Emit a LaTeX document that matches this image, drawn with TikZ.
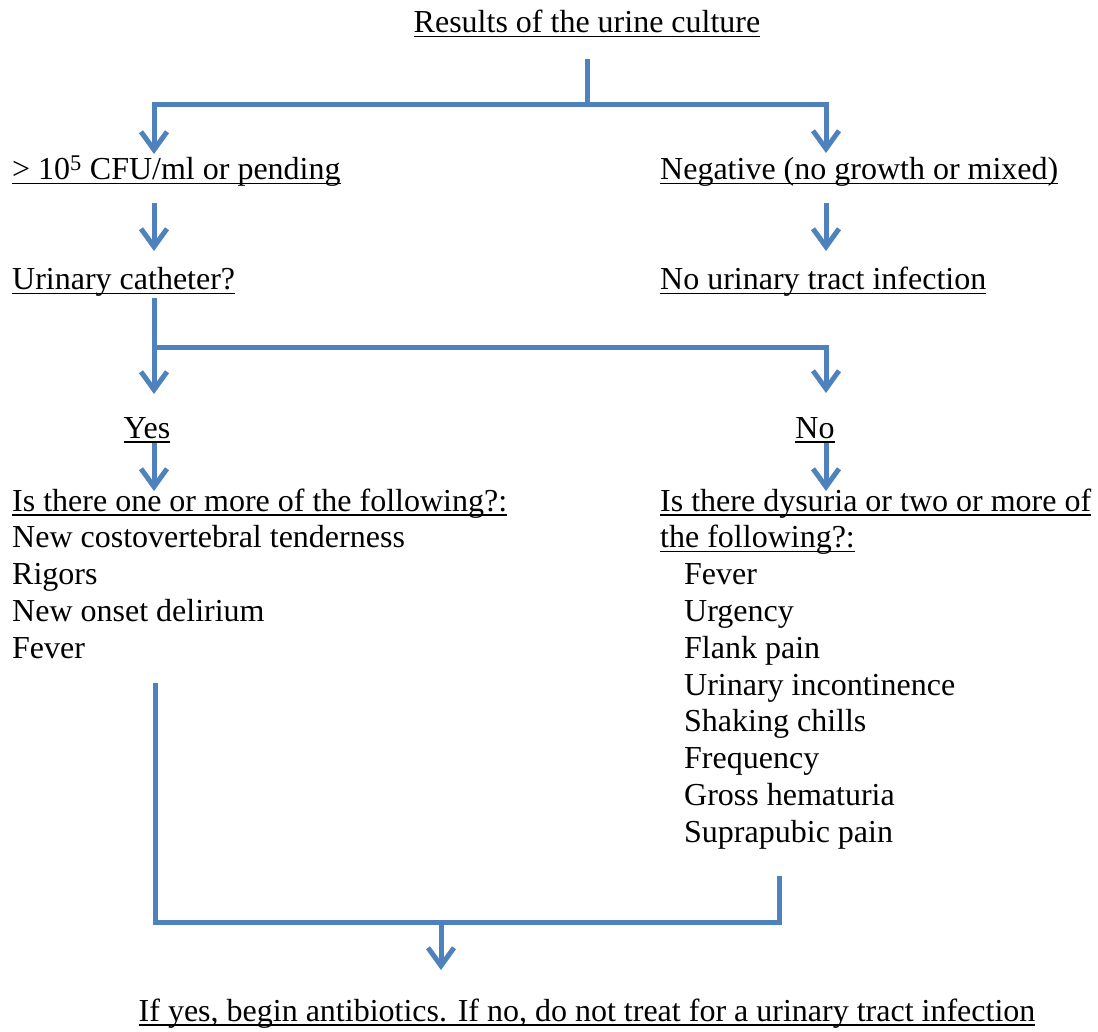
\documentclass[tikz,border=0pt]{standalone}
\usepackage{fontspec}
\setmainfont{Liberation Serif}
\usetikzlibrary{arrows.meta}
\definecolor{flow}{HTML}{4F81BD}
\newsavebox\ulbox
\newcommand\ulx[1]{\sbox\ulbox{#1}\rlap{\rule[-4.5pt]{\wd\ulbox}{1.6pt}}\usebox\ulbox}
\begin{document}
\begin{tikzpicture}[x=1pt,y=-1pt,
  txt/.style={inner sep=0pt, anchor=base west, font=\fontsize{32}{37}\selectfont},
  ctxt/.style={txt, anchor=base},
  flowline/.style={draw=flow, line width=5pt},
  arr/.style={flowline, -{Straight Barb[length=18pt,width=26pt]}}]
\useasboundingbox (0,0) rectangle (1098,1032);

% texts
\node[ctxt] (title) at (587,33) {\ulx{Results of the urine culture}};
\node[txt] (pos) at (12,180) {\ulx{> 10\textsuperscript{5} CFU/ml or pending}};
\node[txt] (neg) at (660,180) {\ulx{Negative (no growth or mixed)}};
\node[txt] (cath) at (12,290) {\ulx{Urinary catheter?}};
\node[txt] (nouti) at (660,290) {\ulx{No urinary tract infection}};
\node[ctxt] (yes) at (147,438) {\ulx{Yes}};
\node[ctxt] (no) at (815,438) {\ulx{No}};

\node[txt] (l1) at (12,511) {\ulx{Is there one or more of the following?:}};
\node[txt] (l2) at (12,547.8) {New costovertebral tenderness};
\node[txt] (l3) at (12,584.6) {Rigors};
\node[txt] (l4) at (12,621.4) {New onset delirium};
\node[txt] (l5) at (12,658.2) {Fever};

\node[txt] (r1) at (660,511) {\ulx{Is there dysuria or two or more of}};
\node[txt] (r2) at (660,547.8) {\ulx{the following?:}};
\node[txt] (r3) at (684,584.6) {Fever};
\node[txt] (r4) at (684,621.4) {Urgency};
\node[txt] (r5) at (684,658.2) {Flank pain};
\node[txt] (r6) at (684,695) {Urinary incontinence};
\node[txt] (r7) at (684,731.8) {Shaking chills};
\node[txt] (r8) at (684,768.6) {Frequency};
\node[txt] (r9) at (684,805.4) {Gross hematuria};
\node[txt] (r10) at (684,842.2) {Suprapubic pain};

\node[ctxt] (final) at (587,1021) {\ulx{If yes, begin antibiotics. If no, do not treat for a urinary tract infection}};

% connector points
\coordinate (t0) at (587,59);
\coordinate (tj) at (587,105);
\coordinate (pL) at (154,154);
\coordinate (pR) at (826,153);
\coordinate (a1s) at (154,203);
\coordinate (a1e) at (154,251);
\coordinate (a2s) at (826,203);
\coordinate (a2e) at (826,251);
\coordinate (c0) at (154,298);
\coordinate (cj) at (154,348);
\coordinate (cY) at (154,394);
\coordinate (cN) at (826,393);
\coordinate (y0) at (154,443);
\coordinate (y1) at (154,491);
\coordinate (n0) at (826,443);
\coordinate (n1) at (826,491);
\coordinate (bL) at (155,683);
\coordinate (bR) at (779,876);
\coordinate (bM) at (441,922);
\coordinate (bE) at (441,970);

% connectors
\draw[flowline] (t0) -- (tj);
\draw[arr] (tj) -| (pL);
\draw[arr] (tj) -| (pR);
\draw[arr] (a1s) -- (a1e);
\draw[arr] (a2s) -- (a2e);
\draw[arr] (c0) -- (cY);
\draw[arr] (cj) -| (cN);
\draw[arr] (y0) -- (y1);
\draw[arr] (n0) -- (n1);
\draw[flowline] (bL) |- (bM) -| (bR);
\draw[arr] (bM) -- (bE);
\end{tikzpicture}
\end{document}
